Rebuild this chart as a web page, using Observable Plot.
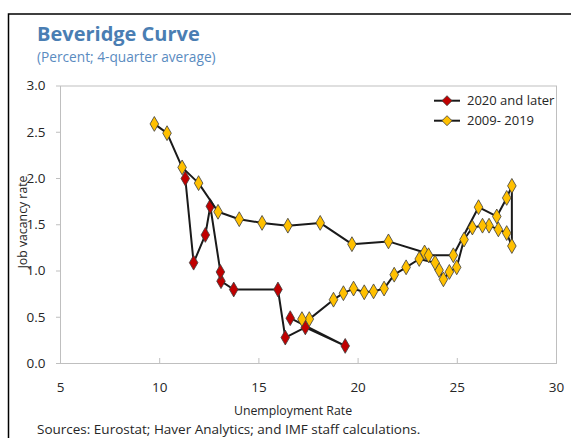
<!DOCTYPE html>
<html>
<head>
<meta charset="utf-8">
<script src="https://cdn.jsdelivr.net/npm/d3@7"></script>
<script src="https://cdn.jsdelivr.net/npm/@observablehq/plot@0.6"></script>
<style>
  html, body { margin: 0; padding: 0; background: #fff; }
  #wrap { position: relative; width: 571px; height: 438px; overflow: hidden; font-family: "Open Sans", sans-serif; }
  #wrap > svg.overlay { position: absolute; left: 0; top: 0; pointer-events: none; }
  #chart { position: absolute; left: 0; top: 0; }
</style>
</head>
<body>
<div id="wrap">
  <div id="chart"></div>
</div>
<script>
// ---- data ----
const title = "Beveridge Curve";
const subtitle = "(Percent; 4-quarter average)";
const xLabel = "Unemployment Rate";
const yLabel = "Job vacancy rate";
const source = "Sources: Eurostat; Haver Analytics; and IMF staff calculations.";
const seriesNames = ["2020 and later", "2009- 2019"];

const xTicks = [5, 10, 15, 20, 25, 30];
const yTicks = [0, 0.5, 1.0, 1.5, 2.0, 2.5, 3.0];

// 2009-2019 (unemployment rate, job vacancy rate), in time order
const oldUnemp = [9.73, 10.37, 11.13, 11.96, 12.94, 14.01, 15.16, 16.46, 18.09, 19.69, 21.53,
  23.35, 23.55, 24.80, 26.07, 26.99, 27.49, 27.75, 27.75, 27.49, 27.07, 26.60, 26.27, 25.76,
  25.34, 24.97, 24.60, 24.30, 24.08, 23.88, 23.08, 22.42, 21.82, 21.31, 20.78, 20.31, 19.77,
  19.26, 18.76, 17.54, 17.17];
const oldVac = [2.59, 2.49, 2.12, 1.95, 1.64, 1.56, 1.52, 1.49, 1.52, 1.29, 1.32,
  1.20, 1.17, 1.17, 1.69, 1.59, 1.79, 1.92, 1.27, 1.41, 1.45, 1.49, 1.49, 1.47,
  1.34, 1.04, 0.99, 0.91, 1.01, 1.09, 1.13, 1.04, 0.96, 0.81, 0.78, 0.77, 0.81,
  0.76, 0.69, 0.48, 0.48];

// 2020 and later
const newUnemp = [16.58, 19.35, 17.34, 16.33, 15.96, 13.73, 13.09, 13.06, 12.55, 12.30, 11.71, 11.29];
const newVac = [0.49, 0.19, 0.39, 0.28, 0.80, 0.80, 0.89, 0.99, 1.70, 1.39, 1.09, 2.00];

const oldData = oldUnemp.map((u, i) => ({u, v: oldVac[i]}));
const newData = newUnemp.map((u, i) => ({u, v: newVac[i]}));

const RED = "#c00000", GOLD = "#ffc000", LINE = "#1a1a1a", EDGE = "#3c3c3c";
const GRID = "#bfbfbf", TXT = "#262626";

const plot = Plot.plot({
  width: 571,
  height: 438,
  marginLeft: 60,
  marginRight: 15,
  marginTop: 85.5,
  marginBottom: 75,
  style: {fontFamily: "Open Sans, sans-serif", fontSize: "13.5px", color: TXT, background: "transparent"},
  x: {domain: [5, 30]},
  y: {domain: [0, 3]},
  marks: [
    Plot.frame({stroke: GRID}),
    Plot.axisY({ticks: yTicks, tickFormat: d => d.toFixed(1), tickSize: 4, tickPadding: 11, stroke: GRID, fill: TXT, label: null}),
    Plot.axisX({ticks: xTicks, tickFormat: d => String(d), tickSize: -5, tickPadding: 23.5, stroke: GRID, fill: TXT, label: null}),
    Plot.line(newData, {x: "u", y: "v", stroke: LINE, strokeWidth: 2, curve: "linear"}),
    Plot.dot(newData, {x: "u", y: "v", symbol: "diamond", r: 4.5, fill: RED, stroke: EDGE, strokeWidth: 0.8}),
    Plot.line(oldData, {x: "u", y: "v", stroke: LINE, strokeWidth: 2, curve: "linear"}),
    Plot.dot(oldData, {x: "u", y: "v", symbol: "diamond", r: 4.5, fill: GOLD, stroke: EDGE, strokeWidth: 0.8})
  ]
});
document.getElementById("chart").appendChild(plot);

// ---- overlay: frame, titles, axis titles, legend, source ----
const ns = "http://www.w3.org/2000/svg";
const ov = document.createElementNS(ns, "svg");
ov.setAttribute("class", "overlay");
ov.setAttribute("width", 571);
ov.setAttribute("height", 438);
document.getElementById("wrap").appendChild(ov);
function el(tag, attrs, text) {
  const e = document.createElementNS(ns, tag);
  for (const k in attrs) e.setAttribute(k, attrs[k]);
  if (text != null) e.textContent = text;
  ov.appendChild(e);
  return e;
}
// outer black border (top & left)
el("path", {d: "M8.5,440V14H575", fill: "none", stroke: "#000", "stroke-width": 1.5});
el("text", {x: 37, y: 40.7, "font-size": 20, "font-weight": 700, fill: "#4a7eb3", "font-family": "Open Sans"}, title);
el("text", {x: 37, y: 62, "font-size": 13.7, fill: "#5a8bbf", "font-family": "Open Sans"}, subtitle);
el("text", {x: 293, y: 415, "font-size": 12.3, fill: TXT, "text-anchor": "middle", "font-family": "Open Sans"}, xLabel);
el("text", {transform: "translate(26.5,222) rotate(-90)", "font-size": 12.3, fill: TXT, "text-anchor": "middle", "font-family": "Open Sans"}, yLabel);
el("text", {x: 37, y: 434, "font-size": 13.5, fill: TXT, "font-family": "Open Sans"}, source);
// legend
const legY = [100.7, 120.7];
const legFill = [RED, GOLD];
seriesNames.forEach((name, i) => {
  const y = legY[i];
  el("line", {x1: 434, x2: 460, y1: y, y2: y, stroke: LINE, "stroke-width": 2});
  el("path", {d: `M447,${y - 5}L452,${y}L447,${y + 5}L442,${y}Z`, fill: legFill[i], stroke: EDGE, "stroke-width": 0.8});
  el("text", {x: 467, y: y + 4.5, "font-size": 13, fill: TXT, "font-family": "Open Sans"}, name);
});
</script>
</body>
</html>
